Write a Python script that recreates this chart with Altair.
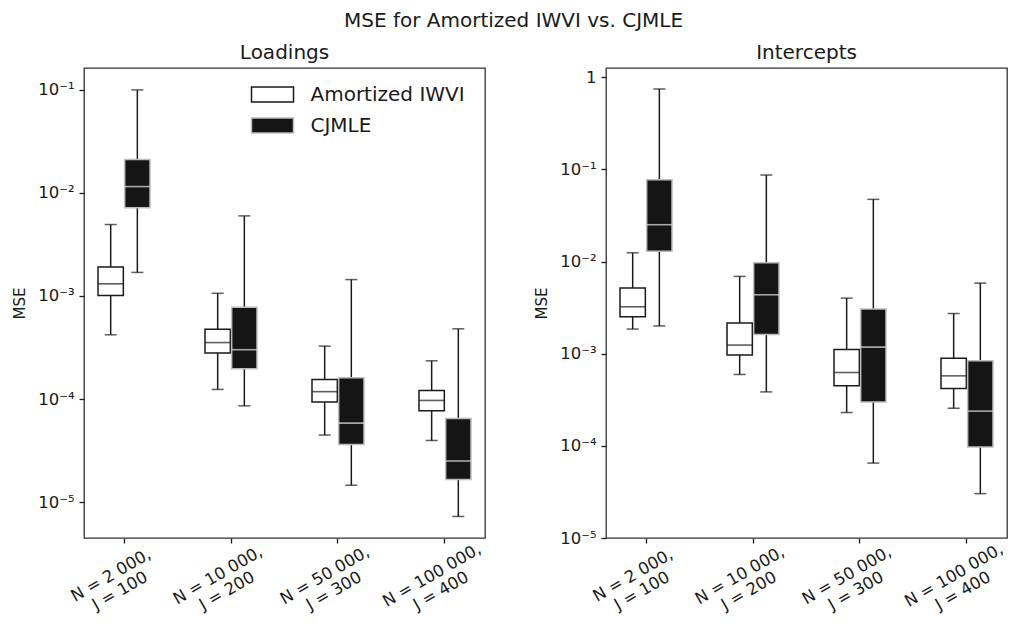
import altair as alt
import pandas as pd

settings = ["N = 2 000,|J = 100", "N = 10 000,|J = 200", "N = 50 000,|J = 300", "N = 100 000,|J = 400"]
methods = ["Amortized IWVI", "CJMLE"]

# Loadings panel: whisker low, Q1, median, Q3, whisker high (per setting)
loadings_iwvi_low = [4.2e-4, 1.24e-4, 4.48e-5, 3.97e-5]
loadings_iwvi_q1 = [1.01e-3, 2.79e-4, 9.35e-5, 7.7e-5]
loadings_iwvi_med = [1.31e-3, 3.53e-4, 1.18e-4, 9.7e-5]
loadings_iwvi_q3 = [1.91e-3, 4.76e-4, 1.55e-4, 1.21e-4]
loadings_iwvi_high = [4.92e-3, 1.06e-3, 3.26e-4, 2.35e-4]
loadings_cjmle_low = [1.69e-3, 8.6e-5, 1.46e-5, 7.28e-6]
loadings_cjmle_q1 = [7.15e-3, 1.97e-4, 3.63e-5, 1.66e-5]
loadings_cjmle_med = [1.148e-2, 3.01e-4, 5.85e-5, 2.51e-5]
loadings_cjmle_q3 = [2.10e-2, 7.78e-4, 1.61e-4, 6.49e-5]
loadings_cjmle_high = [9.93e-2, 5.97e-3, 1.44e-3, 4.8e-4]

# Intercepts panel
intercepts_iwvi_low = [1.85e-3, 5.95e-4, 2.30e-4, 2.56e-4]
intercepts_iwvi_q1 = [2.51e-3, 9.7e-4, 4.48e-4, 4.19e-4]
intercepts_iwvi_med = [3.23e-3, 1.24e-3, 6.25e-4, 5.75e-4]
intercepts_iwvi_q3 = [5.16e-3, 2.15e-3, 1.11e-3, 8.9e-4]
intercepts_iwvi_high = [1.245e-2, 6.9e-3, 4.01e-3, 2.73e-3]
intercepts_cjmle_low = [2.0e-3, 3.85e-4, 6.5e-5, 3.03e-5]
intercepts_cjmle_q1 = [1.29e-2, 1.62e-3, 3.0e-4, 9.7e-5]
intercepts_cjmle_med = [2.51e-2, 4.36e-3, 1.18e-3, 2.38e-4]
intercepts_cjmle_q3 = [7.73e-2, 9.7e-3, 3.05e-3, 8.4e-4]
intercepts_cjmle_high = [0.746, 8.69e-2, 4.73e-2, 5.83e-3]

loadings_ticks = [1e-5, 1e-4, 1e-3, 1e-2, 1e-1]
intercepts_ticks = [1e-5, 1e-4, 1e-3, 1e-2, 1e-1, 1.0]


def make_df(iwvi, cjmle):
    rows = []
    for method, stats in zip(methods, [iwvi, cjmle]):
        low, q1, med, q3, high = stats
        for i, s in enumerate(settings):
            rows.append(dict(Setting=s, Method=method, low=low[i], q1=q1[i],
                             med=med[i], q3=q3[i], high=high[i]))
    return pd.DataFrame(rows)


df_load = make_df(
    [loadings_iwvi_low, loadings_iwvi_q1, loadings_iwvi_med, loadings_iwvi_q3, loadings_iwvi_high],
    [loadings_cjmle_low, loadings_cjmle_q1, loadings_cjmle_med, loadings_cjmle_q3, loadings_cjmle_high],
)
df_int = make_df(
    [intercepts_iwvi_low, intercepts_iwvi_q1, intercepts_iwvi_med, intercepts_iwvi_q3, intercepts_iwvi_high],
    [intercepts_cjmle_low, intercepts_cjmle_q1, intercepts_cjmle_med, intercepts_cjmle_q3, intercepts_cjmle_high],
)

E = "round(-log(datum.value)/LN10)"
YLABEL = (f"datum.value > 0.5 ? '1' : '10\u207b' + ({E} == 1 ? '\u00b9' : {E} == 2 ? '\u00b2' : "
          f"{E} == 3 ? '\u00b3' : {E} == 4 ? '\u2074' : '\u2075')")

INK = "#1a1a1a"


def panel(df, title, ydomain, yticks, legend):
    x = alt.X("Setting:N", sort=settings,
              scale=alt.Scale(paddingInner=0.3, paddingOuter=0.024),
              axis=alt.Axis(title=None, labelExpr="split(datum.label, '|')", labelAngle=-30,
                            labelAlign="center", labelBaseline="top", labelPadding=25,
                            labelOffset=-17, tickSize=5, tickWidth=1.3, tickColor=INK,
                            domain=False, labelFontSize=16.5, labelLineHeight=18,
                            labelColor=INK))
    xo = alt.XOffset("Method:N", sort=methods,
                     scale=alt.Scale(domain=methods, range=[11.45, 63.45], paddingInner=0.05,
                                     paddingOuter=0))
    yscale = alt.Scale(type="log", domain=ydomain, nice=False)
    yaxis = alt.Axis(values=yticks, labelExpr=YLABEL, title="MSE", titleFontSize=15,
                     titleFontWeight="normal", titleColor=INK, titlePadding=10,
                     labelFontSize=16.5, labelColor=INK, labelPadding=5, tickSize=5,
                     tickWidth=1.3, tickColor=INK, domain=False, grid=False)
    base = alt.Chart(df)
    fill_legend = (alt.Legend(title=None, orient="none", legendX=177, legendY=15, padding=0,
                              symbolType="M-2,-0.714H2V0.714H-2Z", symbolSize=441,
                              symbolStrokeColor=INK, symbolStrokeWidth=1.5,
                              labelFontSize=20, labelOffset=26.5, rowPadding=9,
                              labelLimit=300, labelColor=INK, labelFont="DejaVu Sans")
                   if legend else None)
    boxes = base.mark_bar(strokeWidth=1.5).encode(
        x=x, xOffset=xo,
        y=alt.Y("q1:Q", scale=yscale, axis=yaxis), y2="q3:Q",
        fill=alt.Fill("Method:N", scale=alt.Scale(domain=methods, range=["#ffffff", "#151515"]),
                      legend=fill_legend),
        stroke=alt.Stroke("Method:N", scale=alt.Scale(domain=methods, range=[INK, "#bdbdbd"]),
                          legend=None),
    )
    whisk_lo = base.mark_rule(color=INK, strokeWidth=1.5).encode(
        x=x, xOffset=xo, y=alt.Y("low:Q", scale=yscale), y2="q1:Q")
    whisk_hi = base.mark_rule(color=INK, strokeWidth=1.5).encode(
        x=x, xOffset=xo, y=alt.Y("q3:Q", scale=yscale), y2="high:Q")
    cap_lo = base.mark_tick(color=INK, size=12, thickness=1.5).encode(
        x=x, xOffset=xo, y=alt.Y("low:Q", scale=yscale))
    cap_hi = base.mark_tick(color=INK, size=12, thickness=1.5).encode(
        x=x, xOffset=xo, y=alt.Y("high:Q", scale=yscale))
    med = base.mark_tick(size=25, thickness=1.6).encode(
        x=x, xOffset=xo, y=alt.Y("med:Q", scale=yscale),
        color=alt.Color("Method:N", scale=alt.Scale(domain=methods, range=[INK, "#e6e6e6"]),
                        legend=None),
    )
    return alt.layer(whisk_lo, whisk_hi, cap_lo, cap_hi, boxes, med).properties(
        width=401, height=470,
        title=alt.TitleParams(title, fontSize=20, fontWeight="normal", offset=5, color=INK),
    )


left = panel(df_load, "Loadings", [4.5e-6, 0.162], loadings_ticks, True)
right = panel(df_int, "Intercepts", [1e-5, 1.26], intercepts_ticks, False)

chart = alt.hconcat(left, right, spacing=40).resolve_legend(fill="independent").resolve_scale(
    fill="independent", stroke="independent", color="independent"
).properties(
    title=alt.TitleParams("MSE for Amortized IWVI vs. CJMLE", fontSize=20, fontWeight="normal",
                          anchor="middle", color=INK, offset=11),
    padding={"left": 4, "top": 3, "right": -8, "bottom": -11},
).configure(font="DejaVu Sans").configure_view(stroke="#333333", strokeWidth=1.3)

chart.save("out.html", embed_options={"renderer": "svg", "actions": False})
